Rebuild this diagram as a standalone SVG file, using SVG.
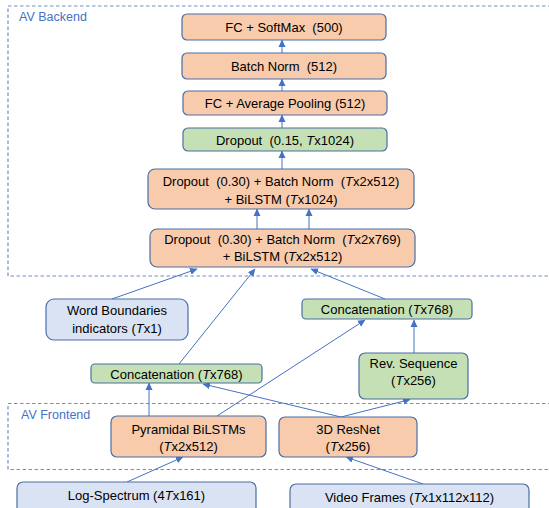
<svg xmlns="http://www.w3.org/2000/svg" width="549" height="508" viewBox="0 0 549 508">
<defs>
<marker id="ah" markerUnits="userSpaceOnUse" markerWidth="8" markerHeight="8" viewBox="0 0 8 8" refX="7" refY="4" orient="auto">
<path d="M0,0.5 L7.5,4 L0,7.5 Z" fill="#4472C4"/>
</marker>
<style>
.bx{stroke:#4A6FA5;stroke-width:1.2}
.or{fill:#F8CBAD}
.gr{fill:#C5E0B4}
.bl{fill:#DAE3F3}
.t{font-family:"Liberation Sans",Arial,sans-serif;font-size:13px;fill:#000;text-anchor:middle;white-space:pre}
.i{font-style:italic}
.lbl{font-family:"Liberation Sans",Arial,sans-serif;font-size:12.5px;fill:#4472C4}
.dash{fill:none;stroke:#6F8FC8;stroke-width:1.2;stroke-dasharray:3.5,2.5}
.c{fill:none;stroke:#4472C4;stroke-width:1;marker-end:url(#ah)}
</style>
</defs>
<rect width="549" height="508" fill="#fff"/>
<g id="backend-frame">
<rect class="dash" x="8" y="6" width="546" height="270"/>
<text class="lbl" x="19" y="21">AV Backend</text>
</g>
<g id="frontend-frame">
<rect class="dash" x="8" y="403.5" width="546" height="66"/>
<text class="lbl" x="21" y="419">AV Frontend</text>
</g>
<g id="connectors">
<line class="c" x1="282" y1="128" x2="282" y2="115"/>
<line class="c" x1="282" y1="91" x2="282" y2="79"/>
<line class="c" x1="282" y1="53" x2="282" y2="40"/>
<line class="c" x1="282" y1="169" x2="282" y2="151"/>
<line class="c" x1="257" y1="229" x2="257" y2="209"/>
<line class="c" x1="309" y1="229" x2="309" y2="209"/>
<line class="c" x1="112" y1="299" x2="197" y2="269"/>
<line class="c" x1="179" y1="364" x2="255" y2="269"/>
<line class="c" x1="385" y1="299" x2="311" y2="269"/>
<line class="c" x1="414" y1="353" x2="414" y2="320"/>
<line class="c" x1="217" y1="416" x2="365" y2="320"/>
<line class="c" x1="149" y1="416" x2="149" y2="383"/>
<line class="c" x1="341" y1="417" x2="203" y2="384"/>
<line class="c" x1="341" y1="417" x2="410" y2="399.5"/>
<line class="c" x1="127" y1="482" x2="183" y2="457"/>
<line class="c" x1="423" y1="484" x2="346" y2="457"/>
</g>
<g id="fc-softmax">
<rect class="bx or" x="182" y="14" width="204" height="26" rx="5"/>
<text class="t" x="284" y="32">FC + SoftMax  (500)</text>
</g>
<g id="batch-norm">
<rect class="bx or" x="182" y="53" width="204" height="26" rx="5"/>
<text class="t" x="284" y="71">Batch Norm  (512)</text>
</g>
<g id="fc-avgpool">
<rect class="bx or" x="183" y="91" width="204" height="24" rx="5"/>
<text class="t" x="285" y="108">FC + Average Pooling (512)</text>
</g>
<g id="dropout-015">
<rect class="bx gr" x="183" y="128" width="204" height="23" rx="5"/>
<text class="t" x="285" y="144.5">Dropout  (0.15, <tspan class="i">T</tspan>x1024)</text>
</g>
<g id="bilstm-2">
<rect class="bx or" x="148" y="169" width="266" height="40" rx="7"/>
<text class="t" x="281" y="186">Dropout  (0.30) + Batch Norm  (<tspan class="i">T</tspan>x2x512)</text>
<text class="t" x="281" y="203.5">+ BiLSTM (<tspan class="i">T</tspan>x1024)</text>
</g>
<g id="bilstm-1">
<rect class="bx or" x="150" y="229" width="265" height="38" rx="7"/>
<text class="t" x="282.5" y="243.5">Dropout  (0.30) + Batch Norm  (<tspan class="i">T</tspan>x2x769)</text>
<text class="t" x="282.5" y="261">+ BiLSTM (<tspan class="i">T</tspan>x2x512)</text>
</g>
<g id="word-boundaries">
<rect class="bx bl" x="46" y="299" width="142" height="41" rx="8"/>
<text class="t" x="117" y="315">Word Boundaries</text>
<text class="t" x="117" y="333">indicators (<tspan class="i">T</tspan>x1)</text>
</g>
<g id="concat-right">
<rect class="bx gr" x="302" y="299" width="170" height="20" rx="4"/>
<text class="t" x="387" y="314">Concatenation (<tspan class="i">T</tspan>x768)</text>
</g>
<g id="concat-left">
<rect class="bx gr" x="91" y="364" width="171" height="19" rx="4"/>
<text class="t" x="176.5" y="378.5">Concatenation (<tspan class="i">T</tspan>x768)</text>
</g>
<g id="rev-sequence">
<rect class="bx gr" x="359" y="353" width="109" height="46" rx="6"/>
<text class="t" x="413.5" y="367.5">Rev. Sequence</text>
<text class="t" x="413.5" y="384.5">(<tspan class="i">T</tspan>x256)</text>
</g>
<g id="pyramidal-bilstms">
<rect class="bx or" x="111" y="416" width="155" height="41" rx="6"/>
<text class="t" x="188.5" y="433.5">Pyramidal BiLSTMs</text>
<text class="t" x="188.5" y="451">(<tspan class="i">T</tspan>x2x512)</text>
</g>
<g id="resnet-3d">
<rect class="bx or" x="279" y="417" width="138" height="40" rx="6"/>
<text class="t" x="348" y="433.5">3D ResNet</text>
<text class="t" x="348" y="451">(<tspan class="i">T</tspan>x256)</text>
</g>
<g id="log-spectrum">
<rect class="bx bl" x="17" y="482" width="239" height="34" rx="6"/>
<text class="t" x="136.5" y="500">Log-Spectrum (4<tspan class="i">T</tspan>x161)</text>
</g>
<g id="video-frames">
<rect class="bx bl" x="290" y="484" width="239" height="34" rx="6"/>
<text class="t" x="409.5" y="501.5">Video Frames (<tspan class="i">T</tspan>x1x112x112)</text>
</g>
</svg>
